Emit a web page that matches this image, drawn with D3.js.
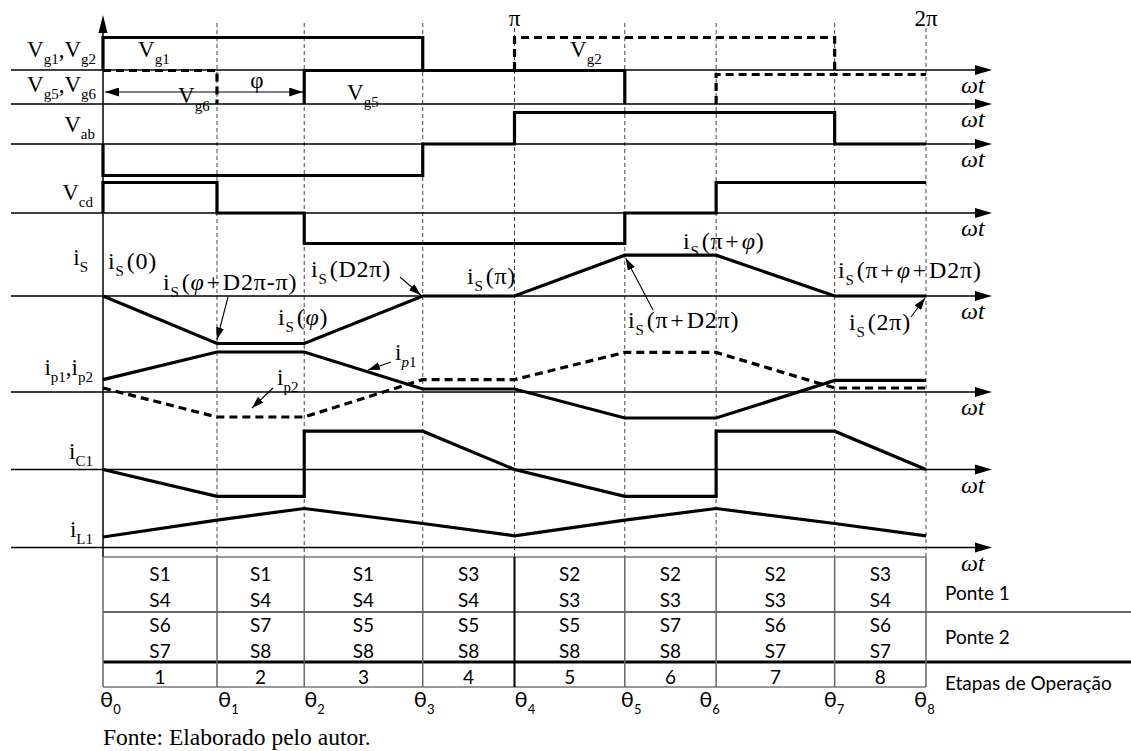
<!DOCTYPE html>
<html><head><meta charset="utf-8">
<script src="https://cdn.jsdelivr.net/npm/d3@7"></script>
<style>body{margin:0;background:#fff}</style>
</head><body><svg id="c" width="1131" height="751"></svg>
<script>
// ---------------- data ----------------
const thetaPi = [0, 0.277, 0.489, 0.777, 1, 1.268, 1.49, 1.778, 2]; // stage boundaries θ0..θ8 (× π)
const thetaNames = ["0","1","2","3","4","5","6","7","8"];
const periodTicks = [1, 2];
const periodLabels = ["π", "2π"];
const vg1Pulse = [0, 3];
const vg2Pulse = [4, 7];
const vg5Pulse = [2, 5];
const vg6Pulses = [[0, 1], [6, 8]];
const vg6Levels = [1.0, 0.88];
const vabLevels = [-1, -1, -1, 0, 1, 1, 1, 0];
const vcdLevels = [1, 0, -1, -1, -1, 0, 1, 1];
const iS  = [0, -1, -1, 0, 0, 0.86, 0.86, 0, 0];
const ip1 = [0.31, 1, 1, 0.075, 0.075, -0.65, -0.65, 0.29, 0.29];
const ip2 = [0.1, -0.625, -0.625, 0.31, 0.31, 0.99, 0.99, 0.1, 0.1];
const iC1Left  = [0, -0.7, -0.7, 1, 0, -0.7, -0.7, 1, 0];
const iC1Right = [0, -0.7, 1, 1, 0, -0.7, 1, 1, 0];
const iL1 = [0.27, 0.7, 1, 0.615, 0.3, 0.7, 1, 0.615, 0.3];
const ponte1Top = ["S1","S1","S1","S3","S2","S2","S2","S3"];
const ponte1Bot = ["S4","S4","S4","S4","S3","S3","S3","S4"];
const ponte2Top = ["S6","S7","S5","S5","S5","S7","S6","S6"];
const ponte2Bot = ["S7","S8","S8","S8","S8","S8","S7","S7"];
const etapas = ["1","2","3","4","5","6","7","8"];
const rowNames = ["Ponte 1", "Ponte 2", "Etapas de Operação"];

// ---------------- layout ----------------
const serif = "'Liberation Serif','Times New Roman',serif";
const sans = "Lato,'Open Sans',sans-serif";
const svg = d3.select("#c");
const x = d3.scaleLinear().domain([0, 2]).range([103, 926]);
const rows = {
  vg12: {y: 70, a: 32.5}, vg56: {y: 104, a: 33.5}, vab: {y: 144, a: 31.5}, vcd: {y: 213, a: 30.5},
  is: {y: 296, a: 47.5}, ip: {y: 392, a: 40}, ic: {y: 469.5, a: 38.3}, il: {y: 547.5, a: 39}
};
const ys = {};
for (const k in rows) ys[k] = d3.scaleLinear().domain([0, 1]).range([rows[k].y, rows[k].y - rows[k].a]);
const T = i => x(thetaPi[i]);
const line = d3.line().x(d => d[0]).y(d => d[1]);
const THICK = 3.2;

function rich(sel, px, py, parts, opts = {}) {
  const t = sel.append("text").attr("x", px).attr("y", py)
    .attr("text-anchor", opts.anchor || "start")
    .attr("font-family", opts.family || serif).attr("font-size", opts.size || 23).attr("fill", "#000");
  if (opts.ls) t.attr("letter-spacing", opts.ls);
  let shifted = 0, pendingDx = 0;
  parts.forEach(p => {
    if (typeof p === "string") p = {s: p};
    const ts = t.append("tspan").text(p.s);
    const target = p.sub ? (opts.subDy || 7) : 0;
    if (target !== shifted) { ts.attr("dy", target - shifted); shifted = target; }
    const dx = pendingDx + (p.pad || 0);
    if (dx) ts.attr("dx", dx);
    pendingDx = p.pad || (p.sub ? (opts.subGap || 0) : 0);
    if (p.sub) ts.attr("font-size", opts.subSize || 15);
    if (p.it) ts.attr("font-style", "italic");
  });
  return t;
}

// markers
const defs = svg.append("defs");
defs.append("marker").attr("id", "ah").attr("viewBox", "0 0 12 8").attr("refX", 12).attr("refY", 4)
  .attr("markerWidth", 12).attr("markerHeight", 8).attr("markerUnits", "userSpaceOnUse").attr("orient", "auto")
  .append("path").attr("d", "M0,0L12,4L0,8Z").attr("fill", "#000");
defs.append("marker").attr("id", "ahb").attr("viewBox", "0 0 14 9").attr("refX", 14).attr("refY", 4.5)
  .attr("markerWidth", 14).attr("markerHeight", 9).attr("markerUnits", "userSpaceOnUse").attr("orient", "auto-start-reverse")
  .append("path").attr("d", "M0,0L14,4.5L0,9Z").attr("fill", "#000");

// guide dashed verticals
const tableTop = 557, sep1 = 612, sep2 = 662, tableBot = 687;
thetaPi.slice(1).forEach((t, j) => {
  const i = j + 1;
  svg.append("line").attr("x1", x(t)).attr("x2", x(t))
    .attr("y1", (i === 4 || i === 8) ? 28 : 23).attr("y2", tableTop)
    .attr("stroke", "#444").attr("stroke-width", 1).attr("stroke-dasharray", "4,3");
});

// horizontal axes with arrows
for (const k in rows) {
  const y = rows[k].y;
  svg.append("line").attr("x1", 11).attr("x2", 980).attr("y1", y).attr("y2", y)
    .attr("stroke", "#000").attr("stroke-width", 1.5);
  svg.append("path").attr("d", `M975,${y - 5}L992,${y}L975,${y + 5}Z`).attr("fill", "#000");
  rich(svg, 961, y + 23, [{s: "ωt", it: true}], {size: 24});
}
// vertical axis
svg.append("line").attr("x1", x(0)).attr("x2", x(0)).attr("y1", 28).attr("y2", tableTop)
  .attr("stroke", "#000").attr("stroke-width", 1.5);
svg.append("path").attr("d", `M${x(0) - 4.5},33L${x(0)},15L${x(0) + 4.5},33Z`).attr("fill", "#000");

// period tick labels
periodTicks.forEach((v, i) => {
  svg.append("text").attr("x", x(v)).attr("y", 26).attr("text-anchor", "middle")
    .attr("font-family", serif).attr("font-size", 23).text(periodLabels[i]);
});

// ---- gate signals ----
function pulse(p, level, yscale, dashed) {
  const [s, e] = p;
  const pts = [];
  if (!(dashed && s === 0)) pts.push([T(s), yscale(0)]);
  pts.push([T(s), yscale(level)], [T(e), yscale(level)]);
  if (e < 8) pts.push([T(e), yscale(0)]);
  svg.append("path").attr("d", line(pts)).attr("fill", "none").attr("stroke", "#000")
    .attr("stroke-width", THICK).attr("stroke-dasharray", dashed ? "8,5" : null);
}
pulse(vg1Pulse, 1, ys.vg12, false);
pulse(vg2Pulse, 1, ys.vg12, true);
pulse(vg5Pulse, 1, ys.vg56, false);
vg6Pulses.forEach((p, i) => pulse(p, vg6Levels[i], ys.vg56, true));

function steps(levels, yscale) {
  const pts = [[T(0), yscale(0)]];
  levels.forEach((l, i) => { pts.push([T(i), yscale(l)], [T(i + 1), yscale(l)]); });
  svg.append("path").attr("d", line(pts)).attr("fill", "none").attr("stroke", "#000")
    .attr("stroke-width", THICK).attr("stroke-linejoin", "miter");
}
steps(vabLevels, ys.vab);
steps(vcdLevels, ys.vcd);

// ---- currents ----
function pl(vals, yscale, dashed) {
  const pts = vals.map((v, i) => [T(i), yscale(v)]);
  svg.append("path").attr("d", line(pts)).attr("fill", "none").attr("stroke", "#000")
    .attr("stroke-width", THICK).attr("stroke-dasharray", dashed ? "8,5" : null);
}
pl(iS, ys.is, false);
pl(ip1, ys.ip, false);
pl(ip2, ys.ip, true);
pl(iL1, ys.il, false);
{
  const pts = [];
  iC1Left.forEach((v, i) => { pts.push([T(i), ys.ic(v)]); if (iC1Right[i] !== v) pts.push([T(i), ys.ic(iC1Right[i])]); });
  svg.append("path").attr("d", line(pts)).attr("fill", "none").attr("stroke", "#000").attr("stroke-width", THICK);
}

// ---- labels ----
const S = s => ({s, sub: true});
rich(svg, 96, 57, ["V", S("g1"), ",", "V", S("g2")], {anchor: "end", subDy: 6.5});
rich(svg, 96, 92, ["V", S("g5"), ",", "V", S("g6")], {anchor: "end", subDy: 6.5});
rich(svg, 95, 132, ["V", S("ab")], {anchor: "end", subDy: 6.5});
rich(svg, 93, 200, ["V", S("cd")], {anchor: "end", subDy: 6.5});
rich(svg, 88, 265, ["i", S("S")], {anchor: "end"});
rich(svg, 93, 375, ["i", S("p1"), ",", "i", S("p2")], {anchor: "end"});
rich(svg, 93, 459, ["i", S("C1")], {anchor: "end"});
rich(svg, 93, 537, ["i", S("L1")], {anchor: "end"});

rich(svg, 138, 57, ["V", S("g1")], {subDy: 6.5});
rich(svg, 570, 57, ["V", S("g2")], {subDy: 6.5});
rich(svg, 178, 103, ["V", S("g6")], {subDy: 8});
rich(svg, 347, 100, ["V", S("g5")], {subDy: 6.5});
svg.append("text").attr("x", 257).attr("y", 88).attr("text-anchor", "middle")
  .attr("font-family", serif).attr("font-size", 23).text("φ");
// φ double arrow
svg.append("line").attr("x1", T(0) + 2).attr("x2", T(2) - 1).attr("y1", 92).attr("y2", 92)
  .attr("stroke", "#000").attr("stroke-width", 1.2)
  .attr("marker-start", "url(#ahb)").attr("marker-end", "url(#ahb)");

const ph = {s: "φ", it: true};
const P = {s: "+", pad: 2};
const isOpts = {size: 24, ls: 0.8, subGap: 2};
rich(svg, 108, 269, ["i", S("S"), "(0)"], isOpts);
rich(svg, 163, 290, ["i", S("S"), "(", ph, P, "D2π-π)"], isOpts);
rich(svg, 311, 277, ["i", S("S"), "(D2π)"], isOpts);
rich(svg, 278, 325, ["i", S("S"), "(", ph, ")"], isOpts);
rich(svg, 467, 284, ["i", S("S"), "(π)"], isOpts);
rich(svg, 683, 249, ["i", S("S"), "(π", P, ph, ")"], isOpts);
rich(svg, 628, 328, ["i", S("S"), "(π", P, "D2π)"], isOpts);
rich(svg, 838, 278, ["i", S("S"), "(π", P, ph, P, "D2π)"], isOpts);
rich(svg, 849, 330, ["i", S("S"), "(2π)"], isOpts);
rich(svg, 395, 360, ["i", {s: "p", sub: true, it: true}, S("1")]);
rich(svg, 277, 385, ["i", S("p2")]);

function ann(x1, y1, x2, y2) {
  svg.append("line").attr("x1", x1).attr("y1", y1).attr("x2", x2).attr("y2", y2)
    .attr("stroke", "#000").attr("stroke-width", 1.1).attr("marker-end", "url(#ah)");
}
ann(228, 297, T(1), ys.is(iS[1]) - 4);
ann(400, 277, T(3) - 2, ys.is(iS[3]) - 1);
ann(653, 310, T(5) + 1, ys.is(iS[5]) + 3);
ann(911, 317, T(8) - 1, ys.is(iS[8]) + 2);
ann(391, 362, 368, 370);
ann(273, 388, 252, 408);

// ---- table ----
const tb = svg.append("g");
tb.append("line").attr("x1", T(0)).attr("x2", T(8)).attr("y1", tableTop).attr("y2", tableTop).attr("stroke", "#777").attr("stroke-width", 1.5);
tb.append("line").attr("x1", T(0)).attr("x2", 1131).attr("y1", sep1).attr("y2", sep1).attr("stroke", "#333").attr("stroke-width", 1.5);
tb.append("line").attr("x1", T(0)).attr("x2", 1131).attr("y1", sep2).attr("y2", sep2).attr("stroke", "#000").attr("stroke-width", 3);
tb.append("line").attr("x1", T(0)).attr("x2", T(8)).attr("y1", tableBot).attr("y2", tableBot).attr("stroke", "#777").attr("stroke-width", 1.5);
thetaPi.forEach((t, i) => {
  tb.append("line").attr("x1", x(t)).attr("x2", x(t)).attr("y1", tableTop).attr("y2", tableBot)
    .attr("stroke", i === 4 ? "#000" : "#666").attr("stroke-width", i === 4 ? 2 : 1.5);
});
const cellRows = [[ponte1Top, 574], [ponte1Bot, 600], [ponte2Top, 625], [ponte2Bot, 651], [etapas, 677.5]];
cellRows.forEach(([arr, cy]) => {
  tb.selectAll(null).data(arr).enter().append("text")
    .attr("x", (d, i) => (T(i) + T(i + 1)) / 2).attr("y", cy + 6.5).attr("text-anchor", "middle")
    .attr("font-family", sans).attr("font-size", 19).text(d => d);
});
[593, 637, 683].forEach((cy, i) => {
  tb.append("text").attr("x", 945).attr("y", cy + 6.5).attr("font-family", sans).attr("font-size", 19).text(rowNames[i]);
});
const thetaDx = [-3, 1, 0, -9, 0, -4, -17, -11, -12];
thetaPi.forEach((t, i) => {
  rich(svg, x(t) + thetaDx[i], 707, ["θ", S(thetaNames[i])], {family: sans, size: 22, subSize: 13, subDy: 7});
});
svg.append("text").attr("x", 103).attr("y", 745).attr("font-family", serif).attr("font-size", 23.5)
  .text("Fonte: Elaborado pelo autor.");
</script></body></html>
